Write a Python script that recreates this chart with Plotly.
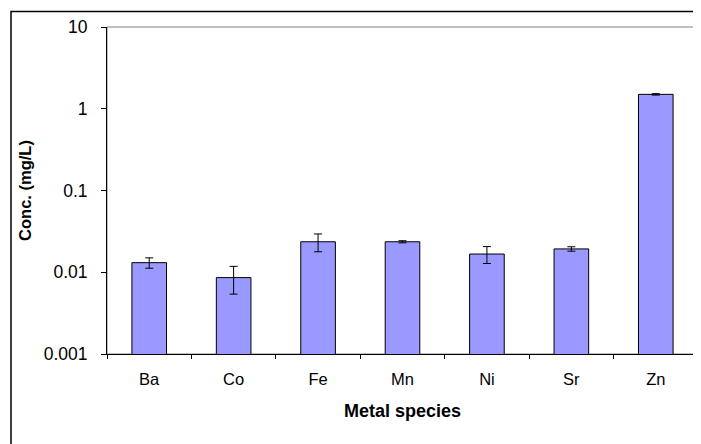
import plotly.graph_objects as go

metals = ["Ba", "Co", "Fe", "Mn", "Ni", "Sr", "Zn"]
conc = [0.0131, 0.0086, 0.0236, 0.0236, 0.0167, 0.0193, 1.50]
err = [0.0019, 0.0032, 0.0058, 0.0007, 0.0039, 0.0012, 0.03]

ytick_vals = [0.001, 0.01, 0.1, 1, 10]
ytick_text = ["0.001", "0.01", "0.1", "1", "10"]

FONT = "Liberation Sans, Arial, sans-serif"

# page body has an 8px margin, so the figure is sized to fit the window
OFF = 8
W, H = 701 - OFF, 444 - OFF
L, T = 107 - OFF, 27 - OFF
pw, ph = 591, 327
R = W - L - pw
B = H - T - ph

def px(x):
    return (x - OFF - L) / pw

def py(y):
    return (T + ph - (y - OFF)) / ph

fig = go.Figure()
fig.add_trace(go.Bar(
    x=metals, y=conc, width=0.41,
    marker=dict(color="#9999FF", line=dict(color="#000000", width=1)),
    error_y=dict(type="data", array=err, visible=True, color="#000000",
                 thickness=1, width=4),
))

fig.update_layout(
    width=W, height=H,
    margin=dict(l=L, r=R, t=T, b=B),
    paper_bgcolor="white", plot_bgcolor="white",
    font=dict(family=FONT, size=16, color="#000000"),
    showlegend=False,
    shapes=[
        dict(type="rect", xref="paper", yref="paper", x0=0, x1=1, y0=0, y1=1,
             line=dict(color="#808080", width=1), layer="below"),
        dict(type="rect", xref="paper", yref="paper",
             x0=px(11), x1=px(705), y0=py(446), y1=py(11.5),
             line=dict(color="#000000", width=1.5), layer="below"),
    ],
)
fig.update_xaxes(
    type="category", showgrid=False, showline=True, linecolor="#000000",
    linewidth=1, ticks="outside", ticklen=4, tickcolor="#000000",
    tickson="boundaries", tickfont=dict(size=16.5), ticklabelstandoff=10,
    automargin=False,
    title=dict(text="<b>Metal species</b>", font=dict(size=18), standoff=17),
)
fig.update_yaxes(
    type="log", range=[-3, 1], showgrid=False, showline=True,
    linecolor="#000000", linewidth=1, ticks="outside", ticklen=5,
    tickcolor="#000000", tickvals=ytick_vals, ticktext=ytick_text,
    tickfont=dict(size=17.5), ticklabelstandoff=10, zeroline=False,
    automargin=False,
    title=dict(text="<b>Conc. (mg/L)</b>", font=dict(size=16.5), standoff=7),
)

fig.write_html("out.html")
